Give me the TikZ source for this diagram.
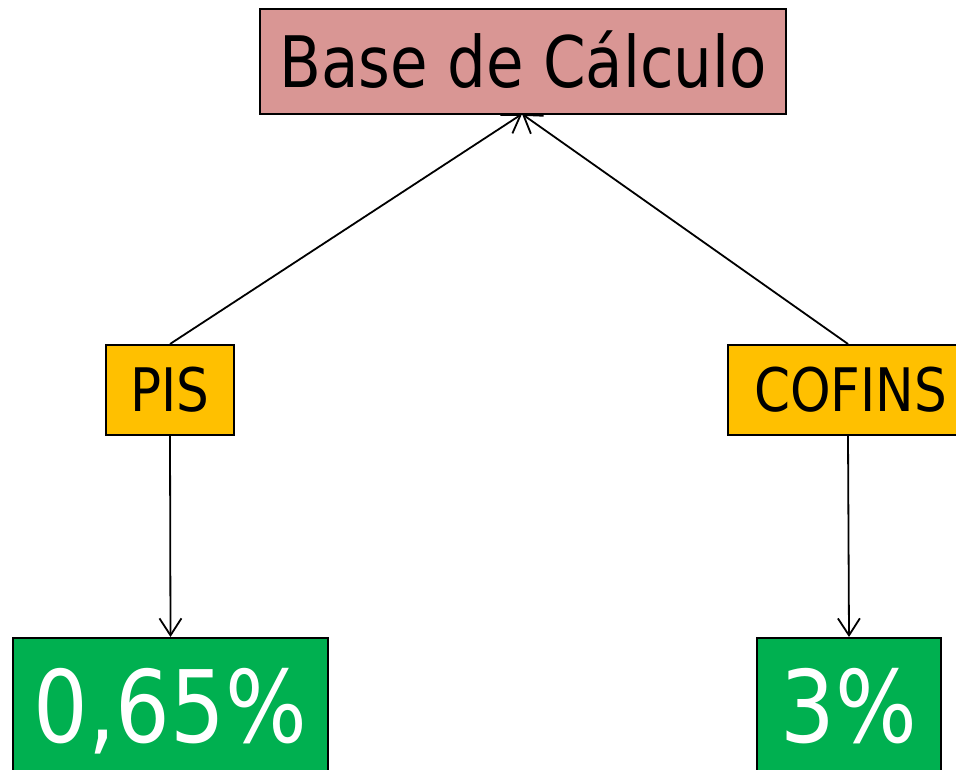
\documentclass[tikz,border=0pt]{standalone}
\usepackage{fontspec}
\setmainfont{DejaVu Sans}[FakeStretch=0.86]
\usetikzlibrary{arrows.meta}
\definecolor{basepink}{HTML}{D99694}
\definecolor{taxorange}{HTML}{FFC000}
\definecolor{rategreen}{HTML}{00B050}
\tikzset{
  box/.style={draw=black, line width=2pt, inner sep=0pt, text depth=0pt, align=center},
  link/.style={line width=1.8pt, -{Straight Barb[length=17pt,width=22pt,line width=1.8pt]}}
}
\begin{document}
\begin{tikzpicture}[x=1pt,y=-1pt]
\useasboundingbox (0,0) rectangle (956,770);
\clip (0,0) rectangle (956,770);
\node[box, fill=basepink, minimum width=526pt, minimum height=105pt, text height=52pt,
  font=\fontsize{71pt}{80pt}\selectfont] (base) at (523,61.5) {Base de Cálculo};
\node[box, fill=taxorange, minimum width=128pt, minimum height=90pt, text height=43pt,
  font=\fontsize{60pt}{66pt}\selectfont] (pis) at (170,390) {PIS};
\node[box, fill=taxorange, minimum width=240pt, minimum height=90pt, text height=43pt,
  font=\fontsize{60pt}{66pt}\selectfont] (cofins) at (848,390) {\hspace*{5pt}COFINS};
\node[box, fill=rategreen, text=white, minimum width=315pt, minimum height=136pt, text height=72pt,
  font=\fontsize{100pt}{110pt}\selectfont] (pisrate) at (170.5,706) {0,65\%};
\node[box, fill=rategreen, text=white, minimum width=184pt, minimum height=136pt, text height=72pt,
  font=\fontsize{100pt}{110pt}\selectfont] (cofinsrate) at (849,706) {3\%};
\coordinate (basein) at (522,114);
\draw[link] (pis.north) -- (basein);
\draw[link] (cofins.north) -- (basein);
\draw[link] (pis.south) -- (pisrate.north);
\draw[link] (cofins.south) -- (cofinsrate.north);
\end{tikzpicture}
\end{document}
